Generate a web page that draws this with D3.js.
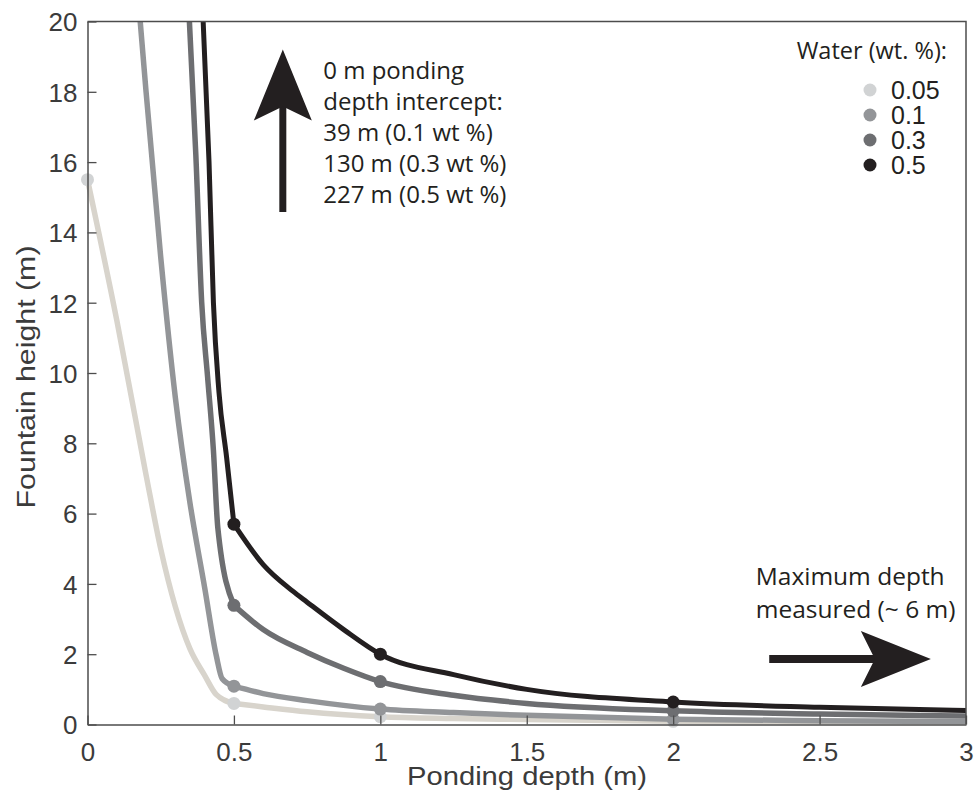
<!DOCTYPE html>
<html>
<head>
<meta charset="utf-8">
<script src="https://cdn.jsdelivr.net/npm/d3@7"></script>
<style>
  body { margin: 0; background: #fff; }
  text { font-family: "Liberation Sans", Arial, sans-serif; }
  .note { font-family: "Open Sans", "Noto Sans", sans-serif; fill: #231f20; }
</style>
</head>
<body>
<svg id="chart" width="979" height="809"></svg>
<script>
// --- Data
const waterLabels = ["0.05", "0.1", "0.3", "0.5"]
const lineColors = ["#d8d4cc", "#939598", "#6d6e71", "#231f20"]
const dotColors = ["#d1d3d4", "#939598", "#6d6e71", "#231f20"]

const depth005 = [0, 0.1, 0.2, 0.25, 0.3, 0.35, 0.4, 0.44, 0.5, 0.6, 0.75, 1, 1.25, 1.5, 2, 2.5, 3]
const height005 = [15.5, 11.5, 7.1, 5.0, 3.35, 2.15, 1.4, 0.85, 0.6, 0.5, 0.36, 0.22, 0.17, 0.14, 0.09, 0.06, 0.05]

const depth01 = [0.18, 0.2, 0.25, 0.3, 0.35, 0.4, 0.44, 0.46, 0.5, 0.6, 0.75, 1, 1.25, 1.5, 2, 2.5, 3]
const height01 = [20.0, 18.0, 13.3, 9.3, 6.3, 3.9, 1.95, 1.3, 1.09, 0.88, 0.68, 0.44, 0.34, 0.26, 0.15, 0.11, 0.08]

const depth03 = [0.348, 0.37, 0.39, 0.41, 0.43, 0.445, 0.5, 0.6, 0.75, 0.875, 1, 1.25, 1.5, 2, 2.5, 3]
const height03 = [20.0, 16.2, 12.0, 9.9, 7.8, 5.6, 3.39, 2.7, 2.05, 1.6, 1.22, 0.83, 0.6, 0.39, 0.3, 0.24]

const depth05 = [0.395, 0.415, 0.43, 0.449, 0.475, 0.5, 0.6, 0.7, 0.75, 0.875, 1, 1.25, 1.5, 2, 2.5, 3]
const height05 = [20.0, 16.0, 12.0, 9.45, 7.6, 5.7, 4.55, 3.8, 3.48, 2.7, 2.0, 1.42, 1.0, 0.64, 0.49, 0.4]

const markerDepths005 = [0, 0.5, 1, 2]
const markerDepths = [0.5, 1, 2]

const xTicks = [0, 0.5, 1, 1.5, 2, 2.5, 3]
const yTicks = [0, 2, 4, 6, 8, 10, 12, 14, 16, 18, 20]

const upNoteLines = ["0 m ponding", "depth intercept:", "39 m (0.1 wt %)", "130 m (0.3 wt %)", "227 m (0.5 wt %)"]
const rightNoteLines = ["Maximum depth", "measured (~ 6 m)"]

const series = [
    { label: waterLabels[0], depth: depth005, height: height005, marks: markerDepths005 },
    { label: waterLabels[1], depth: depth01, height: height01, marks: markerDepths },
    { label: waterLabels[2], depth: depth03, height: height03, marks: markerDepths },
    { label: waterLabels[3], depth: depth05, height: height05, marks: markerDepths }
]

// --- Scales
const svg = d3.select("#chart")
const x = d3.scaleLinear().domain([0, 3]).range([87.5, 966])
const y = d3.scaleLinear().domain([0, 20]).range([724.5, 21.5])
const axisColor = "#4d4d4d"

svg.append("defs").append("clipPath").attr("id", "plot-clip")
    .append("rect")
    .attr("x", x(0) - 20).attr("y", y(20))
    .attr("width", x(3) - x(0) + 20).attr("height", y(0) - y(20))

// --- Curves
const line = d3.line()
    .x(d => x(d[0]))
    .y(d => y(d[1]))
    .curve(d3.curveMonotoneX)

// the curves bend sharply at 0.5 m, so the steep part and the tail are drawn separately
const breakDepth = 0.5

const plot = svg.append("g")
series.forEach((s, i) => {
    const pts = s.depth.map((d, k) => [d, s.height[k]])
    const parts = [pts.filter(p => p[0] <= breakDepth), pts.filter(p => p[0] >= breakDepth)]
    plot.selectAll(null)
        .data(parts)
        .join("path")
        .attr("clip-path", "url(#plot-clip)")
        .attr("fill", "none")
        .attr("stroke", lineColors[i])
        .attr("stroke-width", i === 3 ? 5 : 5.5)
        .attr("stroke-linejoin", "round")
        .attr("stroke-linecap", "round")
        .attr("d", line)

    plot.selectAll(null)
        .data(pts.filter(p => s.marks.includes(p[0])))
        .join("circle")
        .attr("cx", d => x(d[0]))
        .attr("cy", d => y(d[1]))
        .attr("r", 6.5)
        .attr("fill", dotColors[i])
})

// --- Axes (MATLAB style: ticks pointing in, box on)
const xAxis = d3.axisBottom(x).tickValues(xTicks).tickSizeInner(-9).tickSizeOuter(0)
    .tickPadding(18).tickFormat(d3.format("~g"))
const yAxis = d3.axisLeft(y).tickValues(yTicks).tickSizeInner(-9).tickSizeOuter(0)
    .tickPadding(10).tickFormat(d3.format("~g"))

const gx = svg.append("g").attr("transform", `translate(0,${y(0)})`).call(xAxis)
const gy = svg.append("g").attr("transform", `translate(${x(0)},0)`).call(yAxis)

;[gx, gy].forEach(g => {
    g.select(".domain").attr("stroke", axisColor).attr("stroke-width", 1.5)
    g.selectAll(".tick line").attr("stroke", axisColor).attr("stroke-width", 1.3)
    g.selectAll(".tick text")
        .attr("fill", "#3b3b3b")
        .style("font-size", "26px")
        .style("font-family", "'Liberation Sans', Arial, sans-serif")
})
gy.selectAll(".tick text").attr("dy", "0.36em")

// top and right edges of the box
svg.append("path")
    .attr("d", `M${x(0)},${y(20)}H${x(3)}V${y(0)}`)
    .attr("fill", "none")
    .attr("stroke", axisColor)
    .attr("stroke-width", 1.5)

// axis titles
svg.append("text")
    .attr("x", 527).attr("y", 785)
    .attr("text-anchor", "middle")
    .attr("fill", "#3b3b3b")
    .attr("font-size", 25)
    .attr("textLength", 240)
    .attr("lengthAdjust", "spacingAndGlyphs")
    .text("Ponding depth (m)")

svg.append("text")
    .attr("transform", "translate(35,377) rotate(-90)")
    .attr("text-anchor", "middle")
    .attr("fill", "#3b3b3b")
    .attr("font-size", 25)
    .attr("textLength", 263)
    .attr("lengthAdjust", "spacingAndGlyphs")
    .text("Fountain height (m)")

// --- Annotations
function arrow(x0, y0, x1, y1, shaft, headLen, headHalf, notch) {
    const ang = Math.atan2(y1 - y0, x1 - x0)
    const ux = Math.cos(ang), uy = Math.sin(ang)
    const nx = -uy, ny = ux
    const bx = x1 - ux * headLen, by = y1 - uy * headLen
    const kx = x1 - ux * notch, ky = y1 - uy * notch
    svg.append("line")
        .attr("x1", x0).attr("y1", y0).attr("x2", kx + ux * 2).attr("y2", ky + uy * 2)
        .attr("stroke", "#231f20").attr("stroke-width", shaft)
    svg.append("path")
        .attr("d", `M${x1},${y1}L${bx + nx * headHalf},${by + ny * headHalf}` +
            `L${kx},${ky}L${bx - nx * headHalf},${by - ny * headHalf}Z`)
        .attr("fill", "#231f20")
}

arrow(x(0.667), y(14.58), x(0.667), y(19.2), 7, 71, 29, 57)
arrow(x(2.328), y(1.86), x(2.88), y(1.86), 8, 70, 28, 56)

svg.append("text")
    .attr("class", "note")
    .attr("x", x(0.805)).attr("y", y(18.35))
    .attr("font-size", 24)
    .selectAll("tspan")
    .data(upNoteLines)
    .join("tspan")
    .attr("x", x(0.805))
    .attr("dy", (d, i) => i === 0 ? 0 : 31)
    .text(d => d)

svg.append("text")
    .attr("class", "note")
    .attr("x", x(2.282)).attr("y", y(3.96))
    .attr("font-size", 24.5)
    .selectAll("tspan")
    .data(rightNoteLines)
    .join("tspan")
    .attr("x", x(2.282))
    .attr("dy", (d, i) => i === 0 ? 0 : 33)
    .text(d => d)

// --- Legend
const legend = svg.append("g")
legend.append("text")
    .attr("class", "note")
    .attr("x", 947).attr("y", 59)
    .attr("text-anchor", "end")
    .attr("font-size", 23.5)
    .text("Water (wt. %):")

const item = legend.selectAll("g.item")
    .data(waterLabels)
    .join("g")
    .attr("class", "item")
    .attr("transform", (d, i) => `translate(870,${90 + i * 25})`)

item.append("circle").attr("r", 6.5).attr("fill", (d, i) => dotColors[i])
item.append("text")
    .attr("x", 21).attr("y", 9)
    .attr("font-size", 25)
    .attr("fill", "#231f20")
    .text(d => d)
</script>
</body>
</html>
